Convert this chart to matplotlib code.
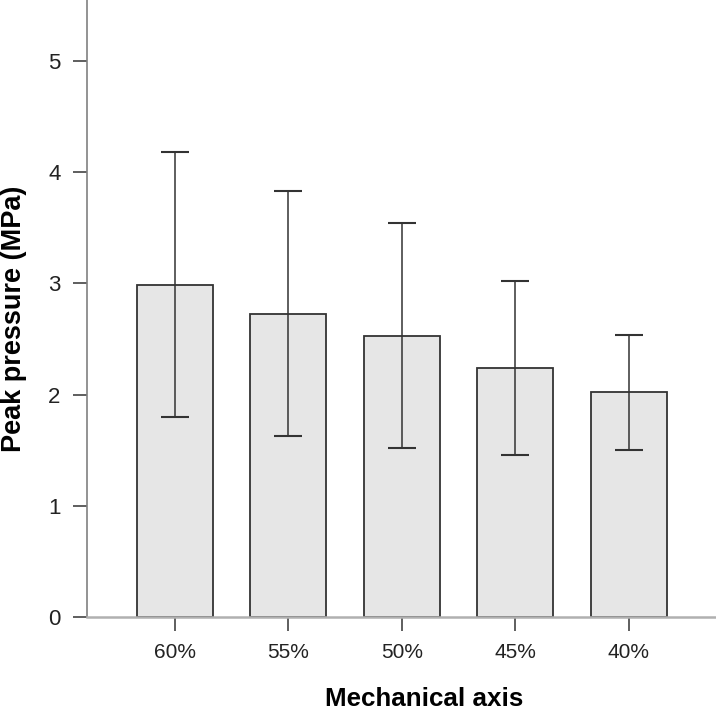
#!/usr/bin/env python3
# -*- coding: utf-8 -*-

import numpy as np
import matplotlib
matplotlib.use("Agg")
import matplotlib.pyplot as plt

# values
categories = ["60%", "55%", "50%", "45%", "40%"]
peak_mean = [2.99, 2.73, 2.53, 2.24, 2.02]
peak_sd = [1.19, 1.10, 1.01, 0.78, 0.52]
y_ticks = [0, 1, 2, 3, 4, 5]

plt.rcParams['font.family'] = ['Liberation Sans', 'DejaVu Sans']

fig = plt.figure(figsize=(7.16, 7.10), dpi=100)
ax = fig.add_axes([87/716, 1 - 617/710, 1 - 87/716, 617/710])

x = np.arange(len(categories))
ax.bar(x, peak_mean, width=0.67, color='#e6e6e6', edgecolor='#333333',
       linewidth=1.3, yerr=peak_sd, capsize=10,
       error_kw=dict(ecolor='#333333', elinewidth=1.1, capthick=1.5))

ax.set_xlim(-0.775, 4.77)
ax.set_ylim(0, 5.55)
ax.set_xticks(x)
ax.set_xticklabels(categories)
ax.set_yticks(y_ticks)

for s in ['top', 'right']:
    ax.spines[s].set_visible(False)
ax.spines['left'].set_color('#808080')
ax.spines['left'].set_linewidth(1.2)
ax.spines['bottom'].set_color('#b0b0b0')
ax.spines['bottom'].set_linewidth(1.8)

ax.tick_params(axis='both', direction='out', length=10, width=1.1,
               color='#333333', labelsize=15, labelcolor='#222222', pad=9)
ax.tick_params(axis='y', labelsize=16)

ax.set_ylabel("Peak pressure (MPa)", fontsize=19.5, fontweight='bold')
ax.yaxis.label.set_va('center')
ax.yaxis.set_label_coords((14 - 87) / 629, (617 - 319) / 617)
ax.set_xlabel("Mechanical axis", fontsize=18.7, fontweight='bold')
ax.xaxis.label.set_va('center')
ax.xaxis.set_label_coords((424 - 87) / 629, -(699 - 617) / 617)

fig.savefig("out.png", dpi=100)
plt.close(fig)
